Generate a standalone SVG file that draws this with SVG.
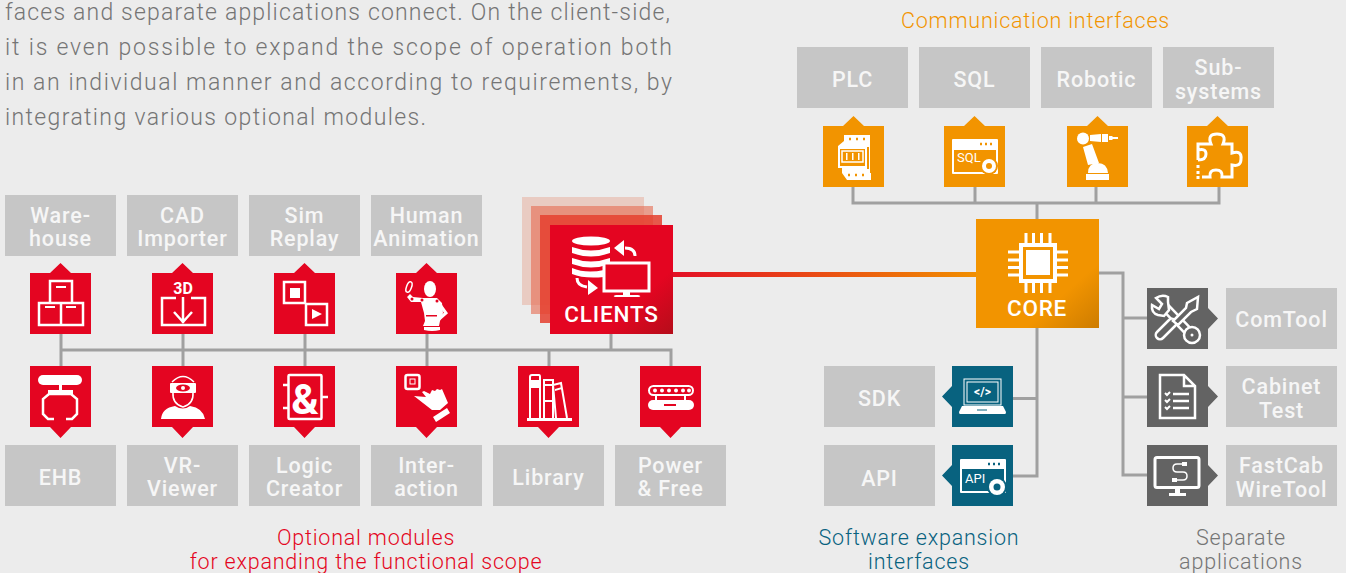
<svg xmlns="http://www.w3.org/2000/svg" width="1346" height="573" viewBox="0 0 1346 573">
<style>
text{font-family:Roboto,"Liberation Sans",sans-serif}
.intro{font-size:23px;font-weight:300;fill:#757575}
.lb{fill:#c6c6c6}
.lt{font-size:21.5px;font-weight:500;fill:#f6f6f6;text-anchor:middle;letter-spacing:.85px}
.cap{font-size:21.5px;font-weight:300;text-anchor:middle;letter-spacing:.8px}
.cn{fill:none;stroke:#a0a0a0;stroke-width:3}
.s{fill:none;stroke:#fff;stroke-width:2.500}
.s3{fill:none;stroke:#fff;stroke-width:3}
.f{fill:#fff}
.red{fill:#e40521}.org{fill:#f29400}.teal{fill:#08627f}.dark{fill:#636363}
.big{font-size:22.500px;font-weight:500;fill:#fff;text-anchor:middle;letter-spacing:.8px}
</style>
<defs>
<linearGradient id="gl" x1="673" x2="976" y1="0" y2="0" gradientUnits="userSpaceOnUse"><stop offset="0" stop-color="#e30f26"/><stop offset="1" stop-color="#f18f00"/></linearGradient>
<linearGradient id="gc" x1="0" y1="0" x2="1" y2="1"><stop offset=".7" stop-color="#e40521"/><stop offset="1" stop-color="#b50d1a"/></linearGradient>
<linearGradient id="go" x1="0" y1="0" x2="1" y2="1"><stop offset=".7" stop-color="#f29400"/><stop offset="1" stop-color="#cd7c00"/></linearGradient>
</defs>
<rect width="1346" height="573" fill="#ececec"/>
<g id="intro">
<text class="intro" x="5" y="20" textLength="665">faces and separate applications connect. On the client-side,</text>
<text class="intro" x="5" y="55" textLength="667">it is even possible to expand the scope of operation both</text>
<text class="intro" x="5" y="90" textLength="667">in an individual manner and according to requirements, by</text>
<text class="intro" x="5" y="125" textLength="421">integrating various optional modules.</text>
</g>
<g id="connectors">
<path class="cn" d="M61 350H671V366M61 334V366M183 334V366M305 334V366M427 334V366M549 350V366M611 334V350"/>
<path class="cn" d="M853 187V203H1219V187M975 187V203M1096 187V203M1037 203V219"/>
<path class="cn" d="M1037 328V476H1013M1037 398.500H1013"/>
<path class="cn" d="M1099 273H1123V475H1147M1123 318H1147M1123 397H1147"/>
<rect x="673" y="272" width="303" height="5" fill="url(#gl)"/>
</g>
<g id="clients">
<rect x="522" y="197" width="122" height="108" fill="#e8b5a6" opacity=".6"/>
<rect x="531" y="206" width="122" height="108" fill="#e66a50" opacity=".6"/>
<rect x="540" y="215" width="122" height="108" fill="#e5402f" opacity=".85"/>
<rect x="550" y="225" width="123" height="109" fill="url(#gc)"/>
<g class="f"><ellipse cx="591" cy="241" rx="19" ry="4.500"/>
<path d="M572 247q19 7 38 0v6q-19 7-38 0zM572 258q19 7 38 0v6q-19 7-38 0zM572 268q14 6 32 2v7q-20 2-32-3z"/></g>
<rect x="604" y="263" width="45" height="28" fill="#e40521" stroke="#fff" stroke-width="3"/>
<path class="f" d="M623 291h7v4h8q4 1 1 2h-24q-3-1 1-2h7z"/>
<path class="s3" d="M635 256q0-8-10-8"/><path class="f" d="M614 248l10-8v16z"/>
<path class="s3" d="M577 278q0 8 10 9"/><path class="f" d="M598 288l-10 7v-15z"/>
<text class="big" x="611.500" y="322">CLIENTS</text>
</g>
<g id="core">
<rect x="976" y="219" width="123" height="109" fill="url(#go)"/>
<rect x="1021" y="245" width="34" height="36" fill="none" stroke="#fff" stroke-width="4"/>
<rect x="1026" y="250" width="24" height="25" class="f"/>
<path class="s3" d="M1026 233v10M1033.500 233v10M1041.500 233v10M1050 233v10M1026 283v10M1033.500 283v10M1041.500 283v10M1050 283v10M1008 252h11M1008 260h11M1008 267.500h11M1008 275h11M1057 252h11M1057 260h11M1057 267.500h11M1057 275h11"/>
<text class="big" x="1037" y="316" style="letter-spacing:.7px">CORE</text>
</g>
<g id="warehouse"><rect class="lb" x="5" y="195" width="111" height="61"/><text class="lt" x="60.500" y="223">Ware-</text><text class="lt" x="60.500" y="246">house</text>
<path class="red" d="M30 273H50L60.500 263 71 273H91V334H30z"/><path class="s" d="M50 281h22v22H50zM39 303h22v22H39zM61 303h22v22H61z"/><path class="f" d="M56 286h10v2H56zM45 306h10v2H45zM66 306h10v2H66z"/></g>
<g id="cad"><rect class="lb" x="127" y="195" width="111" height="61"/><text class="lt" x="182.500" y="223">CAD</text><text class="lt" x="182.500" y="246">Importer</text>
<path class="red" d="M152 273H172L182.500 263 193 273H213V334H152z"/><text x="183" y="294" font-size="16" font-weight="700" fill="#fff" text-anchor="middle">3D</text><path class="s" d="M176 298h-14v27h43v-27h-14M183 297v26M174 312l9 10 9-10"/></g>
<g id="simreplay"><rect class="lb" x="249" y="195" width="111" height="61"/><text class="lt" x="304.500" y="223">Sim</text><text class="lt" x="304.500" y="246">Replay</text>
<path class="red" d="M274 273H294L304.500 263 315 273H335V334H274z"/><path class="s" d="M284 282h21v21h-21zM306 304h21v21h-21z"/><path class="f" d="M290 288h10v10h-10zM312 309l10 5-10 5z"/></g>
<g id="human"><rect class="lb" x="371" y="195" width="111" height="61"/><text class="lt" x="426.500" y="223">Human</text><text class="lt" x="426.500" y="246">Animation</text>
<path class="red" d="M396 273H416L426.500 263 437 273H457V334H396z"/><ellipse class="f" cx="430" cy="289" rx="6" ry="8"/><path class="f" d="M423 298h14l5 5 1 10-3 8-1 5h-16l2-5-1-8-3-11-10 0-4-5 3-3 3 3z"/><path class="s3" d="M438 302l8 11-8 7"/><path class="f" d="M424 327h16v3q-8 2-16 0z"/><ellipse cx="409" cy="287" rx="2.500" ry="5.500" fill="none" stroke="#fff" stroke-width="1.500" transform="rotate(20 409 287)"/><g fill="#e40521"><circle cx="412" cy="299" r="1.500"/><circle cx="422" cy="300" r="1.500"/><circle cx="437" cy="301" r="1.500"/><path d="M426 315h11v1.500h-11z"/></g></g>
<g id="ehb"><rect class="lb" x="5" y="445" width="111" height="61"/><text class="lt" x="60.500" y="485">EHB</text>
<path class="red" d="M30 366H91V427H71L60.500 438 50 427H30z"/><rect class="f" x="38" y="375" width="44" height="10" rx="5"/><path class="f" d="M59 385h3v5h11v4H48v-4h11z"/><path class="s" d="M54 419h-6l-5-5v-15l6-5h22l6 5v15l-5 5h-6"/></g>
<g id="vr"><rect class="lb" x="127" y="445" width="111" height="61"/><text class="lt" x="182.500" y="473">VR-</text><text class="lt" x="182.500" y="496">Viewer</text>
<path class="red" d="M152 366H213V427H193L182.500 438 172 427H152z"/><path class="f" d="M161 419q1-11 14-13 8 5 15 0 13 2 15 13z"/><path class="s" stroke-width="1.500" style="stroke-width:1.500" d="M173 392q-1 12 10 15 11-3 10-15M172 382q11-11 22 0"/><rect class="f" x="170" y="383" width="26" height="10" rx="1"/><ellipse cx="183" cy="388" rx="7" ry="3.500" fill="#e40521"/><circle class="f" cx="183" cy="388" r="2"/></g>
<g id="logic"><rect class="lb" x="249" y="445" width="111" height="61"/><text class="lt" x="304.500" y="473">Logic</text><text class="lt" x="304.500" y="496">Creator</text>
<path class="red" d="M274 366H335V427H315L304.500 438 294 427H274z"/><rect class="s" x="288.500" y="375" width="33" height="44" rx="1"/><path class="s" d="M283 385h5M283 408h5M322 397h6"/><text x="305" y="414" font-size="42" font-weight="700" fill="#fff" text-anchor="middle">&amp;</text></g>
<g id="interaction"><rect class="lb" x="371" y="445" width="111" height="61"/><text class="lt" x="426.500" y="473">Inter-</text><text class="lt" x="426.500" y="496">action</text>
<path class="red" d="M396 366H457V427H437L426.500 438 416 427H396z"/><rect class="s" x="405.500" y="375" width="14" height="14" rx="2"/><rect x="410" y="379" width="5" height="5" fill="none" stroke="#fff"/><path class="f" d="M414 396l12 1-4-5 2-1 6 3 2-4 3 1 2-2 3 1 2-1 6 14-8 7-8 0z"/><path class="f" d="M433 417l14-9 3 5-14 9z"/></g>
<g id="library"><rect class="lb" x="493" y="445" width="111" height="61"/><text class="lt" x="548.500" y="485">Library</text>
<path class="red" d="M518 366H579V427H559L548.500 438 538 427H518z"/><path class="f" d="M527 418h45v3h-45z"/><path class="s" style="stroke-width:2" d="M530 418v-41q0-2 2-2h7q1 0 1 2v41M544 418v-38h9v38M556 418l-3-33 8-2 6 35"/><path class="f" d="M530 380h10v8h-10zM545 384h8v2h-8zM545 400h8v2h-8zM555 389l7-2v2l-7 2z"/></g>
<g id="power"><rect class="lb" x="615" y="445" width="111" height="61"/><text class="lt" x="670.500" y="473">Power</text><text class="lt" x="670.500" y="496">&amp; Free</text>
<path class="red" d="M640 366H701V427H681L670.500 438 660 427H640z"/><rect class="s" style="stroke-width:2" x="649" y="386" width="44" height="9" rx="4.500"/><g class="f"><circle cx="655" cy="390.500" r="2"/><circle cx="662" cy="390.500" r="2"/><circle cx="669" cy="390.500" r="2"/><circle cx="676" cy="390.500" r="2"/><circle cx="683" cy="390.500" r="2"/><circle cx="689" cy="390.500" r="2"/></g><path class="s" style="stroke-width:2" d="M656 395v6M685 395v6"/><rect class="f" x="648" y="400" width="46" height="10" rx="5"/><path d="M664 405h12" stroke="#e40521" stroke-width="2"/></g>
<g id="plc"><rect class="lb" x="797" y="47" width="111" height="61"/><text class="lt" x="852.500" y="87">PLC</text>
<path class="org" d="M823 126H843L853.500 116 864 126H884V187H823z"/><path class="f" d="M844 135h26v38h1v7h-24l-5-7v-5h-4v-22l6-5z"/><path class="org" d="M840 149h25v17h-25zM867 147h2v22h-2z"/><path class="s" style="stroke-width:1.500" d="M842 151h21v11h-21z"/><path class="f" d="M846 153h1.500v7H846zM852 153h1.500v7H852zM858 153h1.500v7H858z"/><path d="M849 139h2M856 139h2M863 139h2M848 175h2M855 175h2M862 175h2" stroke="#f29400" stroke-width="2.500"/></g>
<g id="sql"><rect class="lb" x="919" y="47" width="111" height="61"/><text class="lt" x="974.500" y="87">SQL</text>
<path class="org" d="M944 126H964L974.500 116 985 126H1005V187H944z"/><rect class="f" x="952" y="139" width="46" height="35" rx="1"/><rect class="org" x="954" y="150" width="42" height="22"/><circle class="org" cx="989" cy="166" r="9"/><circle class="f" cx="989" cy="166" r="7"/><circle class="org" cx="989" cy="166" r="3"/><text x="957" y="162" font-size="13" fill="#fff">SQL</text><path d="M980 144h2M985 144h2M990 144h2" stroke="#f29400" stroke-width="2.500"/></g>
<g id="robotic"><rect class="lb" x="1041" y="47" width="111" height="61"/><text class="lt" x="1096.500" y="87">Robotic</text>
<path class="org" d="M1067 126H1087L1097.500 116 1108 126H1128V187H1067z"/><circle class="f" cx="1083" cy="138.500" r="6"/><path class="f" d="M1090 135l11-1v8l-11-1zM1102 134h6v8h-6zM1109 136h3l1 1h5v2h-5l-1 1h-3zM1083 147l9-3 7 19-11 2zM1088 173q0-10 10-10 9 0 10 10zM1086 174h23v6h-23z"/></g>
<g id="subsystems"><rect class="lb" x="1163" y="47" width="111" height="61"/><text class="lt" x="1218.500" y="75">Sub-</text><text class="lt" x="1218.500" y="99">systems</text>
<path class="org" d="M1187 126H1207L1217.500 116 1228 126H1248V187H1187z"/><path class="s3" d="M1198 160v-16h13q-4-10 6-10 10 0 6 10h9v9q10-3 9 6 0 8-9 6v12h-10q1-7-6-7-7 0-6 7h-8M1198 150q8-2 8 4t-8 6"/><path class="f" d="M1196.500 165h3v3h-3zM1196.500 171h3v3h-3zM1196.500 176h3v3h-3z"/></g>
<g id="sdk"><rect class="lb" x="824" y="366" width="111" height="61"/><text class="lt" x="879.500" y="406">SDK</text>
<path class="teal" d="M952 366H1013V427H952V407L942 396.500 952 386z"/><rect class="s" x="964" y="379" width="37" height="26" style="stroke-width:1"/><rect x="967" y="382" width="31" height="20" fill="none" stroke="#fff"/><text x="982.500" y="396" font-size="12" font-weight="700" fill="#fff" text-anchor="middle">&lt;/&gt;</text><path class="f" d="M962 406h41l3 6q0 2-1 2h-45q-1 0-1-2z"/><path d="M977 410h10" stroke="#08627f"/></g>
<g id="api"><rect class="lb" x="824" y="445" width="111" height="61"/><text class="lt" x="879.500" y="486">API</text>
<path class="teal" d="M952 445H1013V506H952V486L942 475.500 952 465z"/><rect class="f" x="960" y="459" width="46" height="34" rx="1"/><rect class="teal" x="962" y="469" width="42" height="22"/><circle class="teal" cx="997" cy="487" r="10"/><circle class="f" cx="997" cy="487" r="8"/><circle class="teal" cx="997" cy="487" r="3.500"/><text x="965" y="483" font-size="13" fill="#fff">API</text><path d="M988 464h2M993 464h2M998 464h2" stroke="#08627f" stroke-width="2.500"/></g>
<g id="comtool"><rect class="lb" x="1226" y="288" width="111" height="61"/><text class="lt" x="1281.500" y="327">ComTool</text>
<path class="dark" d="M1147 288H1208V308L1218 318.500 1208 329V349H1147z"/>
<path d="M1165 307L1188 331" stroke="#fff" stroke-width="10"/><path d="M1165 307L1188 331" stroke="#636363" stroke-width="5"/>
<circle cx="1192" cy="335" r="8" fill="#636363" stroke="#fff" stroke-width="2.500"/><circle cx="1192" cy="335" r="1.500" fill="#fff"/>
<path fill="#636363" stroke="#fff" stroke-width="2.500" d="M1168 297q-6-3-12 1l6 6-3 5-7-4q-1 8 6 10l6 1 5-6-1-8z"/>
<path d="M1160 335L1172 323" stroke="#fff" stroke-width="11" stroke-linecap="round"/><path d="M1160 335L1172 323" stroke="#636363" stroke-width="6" stroke-linecap="round"/>
<path fill="#636363" stroke="#fff" stroke-width="2.500" d="M1173 321l13-13 1-5 11-6-1 12-6 3-13 13z"/></g>
<g id="cabinet"><rect class="lb" x="1226" y="366" width="111" height="61"/><text class="lt" x="1281.500" y="394">Cabinet</text><text class="lt" x="1281.500" y="418">Test</text>
<path class="dark" d="M1147 366H1208V386L1218 396.500 1208 407V427H1147z"/><path class="s" d="M1184 375h-24v43h35v-32zM1184 375v11h11"/><path class="s" d="M1173 394h16M1173 401h16M1173 408h16"/><path d="M1165 393l2 2 3-3M1165 400l2 2 3-3M1165 407l2 2 3-3" fill="none" stroke="#fff" stroke-width="2"/></g>
<g id="fastcab"><rect class="lb" x="1226" y="445" width="111" height="61"/><text class="lt" x="1281.500" y="473">FastCab</text><text class="lt" x="1281.500" y="497">WireTool</text>
<path class="dark" d="M1147 445H1208V465L1218 475.500 1208 486V506H1147z"/><rect class="s3" x="1155" y="457.500" width="44" height="30" rx="2"/><path class="f" d="M1175 488h5v5h6v3h-17v-3h6z"/><path class="s" style="stroke-width:1.500" d="M1184 464h-7q-4 0-4 4 0 4 4 4h6q4 0 4 4t-4 4h-7"/><path class="f" d="M1182 462h5v4h-5zM1172 478h5v4h-5z"/></g>
<g id="captions">
<text class="cap" x="366" y="545" fill="#e40521">Optional modules</text>
<text class="cap" x="366" y="569" fill="#e40521">for expanding the functional scope</text>
<text class="cap" x="919" y="545" fill="#08627f">Software expansion</text>
<text class="cap" x="919" y="569" fill="#08627f">interfaces</text>
<text class="cap" x="1241" y="545" fill="#757575">Separate</text>
<text class="cap" x="1241" y="569" fill="#757575">applications</text>
<text class="cap" x="1035.500" y="28" fill="#f29400">Communication interfaces</text>
</g>
</svg>
